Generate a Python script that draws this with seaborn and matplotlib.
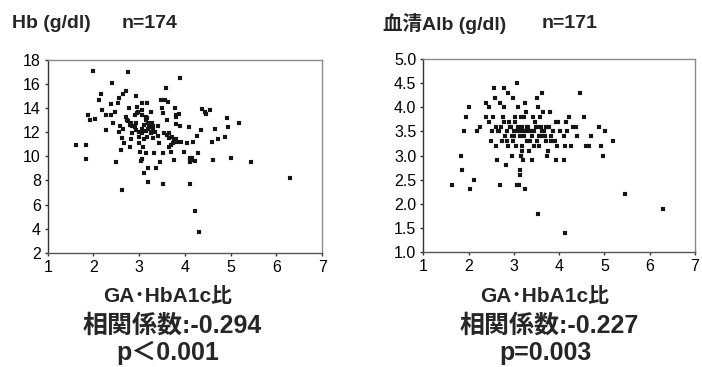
import matplotlib
matplotlib.use("Agg")
import matplotlib.pyplot as plt
import seaborn as sns
import pandas as pd

# ---- data ----
hb_ratio = [1.62, 1.83, 1.84, 1.99, 1.88, 1.93, 2.03, 2.11, 2.16, 2.19, 2.27, 2.27, 2.38, 2.38, 2.41,
            2.43, 2.47, 2.50, 2.54, 2.55, 2.58, 2.60, 2.63, 2.63, 2.65, 2.70, 2.66, 2.76, 2.71, 2.74,
            2.78, 2.79, 2.81, 2.83, 2.85, 2.90, 2.93, 2.94, 2.94, 2.96, 2.98, 3.00, 3.01, 3.04, 3.05,
            3.05, 3.07, 3.09, 3.11, 3.14, 3.14, 3.16, 3.18, 3.18, 3.20, 3.20, 3.22, 3.25, 3.27, 3.29,
            3.31, 3.32, 3.37, 3.41, 3.43, 3.45, 3.48, 3.49, 3.51, 3.51, 3.53, 3.54, 3.56, 3.59, 3.60,
            3.62, 3.64, 3.66, 3.69, 3.71, 3.73, 3.76, 3.78, 3.80, 3.80, 3.81, 3.82, 3.86, 3.89, 3.89,
            3.92, 3.98, 4.04, 4.09, 4.10, 4.11, 4.11, 4.14, 4.17, 4.21, 4.22, 4.27, 4.28, 4.31, 4.35,
            4.37, 4.44, 4.47, 4.55, 4.60, 4.61, 4.66, 4.72, 4.87, 4.92, 4.94, 5.01, 5.18, 5.45, 6.30,
            2.75, 2.80, 2.90, 3.00, 3.05, 3.10, 3.15, 3.20, 3.25, 3.30, 3.00, 3.10, 2.95, 3.05, 3.15,
            3.20, 3.30, 3.35, 2.85, 3.60, 3.65, 3.70, 3.75, 3.40, 2.65, 2.55, 3.05, 4.12, 4.15, 3.80]
hb_value = [10.9, 10.9, 9.8, 17.1, 13.4, 13.0, 13.1, 14.7, 15.2, 13.8, 13.4, 12.2, 13.4, 14.3, 16.1,
            12.8, 13.7, 9.5, 14.4, 14.8, 12.5, 10.5, 7.2, 11.5, 15.2, 15.4, 11.1, 17.0, 13.3, 13.0,
            14.0, 10.8, 11.4, 12.8, 12.5, 13.4, 15.0, 12.8, 12.2, 14.1, 13.7, 11.1, 10.4, 9.6, 14.4,
            11.9, 13.4, 10.8, 8.6, 10.3, 13.0, 14.4, 13.2, 11.6, 9.0, 7.9, 12.4, 13.7, 12.0, 12.8,
            11.5, 10.3, 9.0, 12.5, 11.1, 9.5, 14.7, 14.0, 7.7, 13.6, 10.3, 11.9, 14.7, 15.7, 13.0,
            14.5, 10.8, 11.9, 10.4, 11.6, 11.1, 9.7, 14.0, 13.4, 12.7, 11.4, 11.2, 13.5, 16.5, 12.5,
            11.2, 10.4, 11.1, 12.4, 9.9, 9.5, 7.7, 9.7, 11.2, 5.5, 9.6, 11.7, 10.3, 3.7, 12.2,
            13.9, 13.7, 13.5, 13.8, 11.2, 9.7, 12.3, 11.4, 11.6, 13.2, 12.4, 9.9, 12.8, 9.5, 8.2,
            12.9, 12.6, 12.4, 12.0, 12.3, 12.6, 12.1, 12.3, 11.9, 12.2, 11.6, 11.4, 13.6, 13.8, 13.3,
            12.8, 12.5, 12.0, 11.9, 11.8, 11.5, 10.9, 11.3, 11.7, 12.3, 12.0, 9.8, 9.8, 9.9, 13.3]

alb_ratio = [1.64, 1.84, 1.86, 1.90, 1.95, 2.00, 2.04, 2.12, 2.18, 2.26, 2.39, 2.39, 2.45, 2.46, 2.50,
             2.51, 2.55, 2.57, 2.58, 2.61, 2.63, 2.66, 2.70, 2.70, 2.72, 2.74, 2.75, 2.79, 2.79, 2.81,
             2.82, 2.86, 2.88, 2.90, 2.93, 2.95, 2.97, 2.99, 3.01, 3.03, 3.04, 3.07, 3.08, 3.10, 3.10,
             3.12, 3.13, 3.14, 3.14, 3.15, 3.17, 3.19, 3.20, 3.21, 3.23, 3.24, 3.25, 3.26, 3.28, 3.30,
             3.34, 3.36, 3.39, 3.41, 3.43, 3.45, 3.50, 3.50, 3.52, 3.53, 3.53, 3.55, 3.57, 3.59, 3.61,
             3.63, 3.65, 3.66, 3.70, 3.74, 3.76, 3.77, 3.79, 3.82, 3.83, 3.86, 3.91, 3.92, 3.93, 3.96,
             3.98, 4.01, 4.10, 4.10, 4.12, 4.12, 4.15, 4.18, 4.21, 4.27, 4.30, 4.38, 4.39, 4.47, 4.56,
             4.59, 4.65, 4.70, 4.87, 4.92, 4.96, 5.01, 5.18, 5.45, 6.29,
             2.60, 2.68, 2.78, 2.85, 2.92, 3.00, 3.05, 3.12, 3.18, 3.22, 3.27, 3.32, 3.38, 3.44, 3.48,
             3.56, 3.62, 3.68, 3.72, 2.84, 2.96, 3.02, 3.16, 3.35, 3.46]
alb_value = [2.4, 3.0, 2.7, 3.5, 3.8, 4.0, 2.3, 2.5, 3.5, 3.6, 4.1, 3.8, 4.0, 3.7, 3.3,
             3.5, 3.8, 4.4, 4.2, 3.2, 2.9, 3.5, 2.4, 4.1, 3.6, 3.3, 3.8, 4.4, 4.0, 3.4,
             2.8, 3.2, 4.3, 3.7, 3.6, 3.0, 3.3, 4.2, 3.5, 3.8, 3.2, 2.4, 4.5, 3.6, 4.0,
             2.4, 3.4, 2.7, 2.6, 3.0, 3.2, 3.1, 2.9, 3.5, 3.8, 4.1, 2.3, 3.9, 3.6, 3.3,
             3.1, 3.5, 2.9, 3.4, 3.8, 3.2, 3.3, 4.2, 3.6, 1.8, 4.0, 3.2, 3.8, 3.4, 3.6,
             4.3, 3.9, 3.5, 3.3, 3.0, 3.1, 3.6, 3.9, 3.3, 3.4, 3.5, 3.3, 2.9, 3.7, 3.2,
             3.7, 3.5, 3.4, 2.9, 1.4, 3.2, 3.7, 3.5, 3.8, 3.2, 3.6, 3.6, 3.4, 4.3, 3.8,
             3.2, 3.2, 3.4, 3.6, 3.2, 3.0, 3.5, 3.3, 2.2, 1.9,
             3.6, 3.5, 3.7, 3.5, 3.6, 3.4, 3.5, 3.5, 3.6, 3.4, 3.5, 3.6, 3.5, 3.5, 3.6,
             3.4, 3.5, 3.4, 3.6, 3.3, 3.4, 3.7, 3.8, 3.3, 3.7]

x_ticks = [1, 2, 3, 4, 5, 6, 7]
hb_yticks = [2, 4, 6, 8, 10, 12, 14, 16, 18]
alb_yticks = [1.0, 1.5, 2.0, 2.5, 3.0, 3.5, 4.0, 4.5, 5.0]

titles = [("Hb (g/dl)", "n=174"), ("血清Alb (g/dl)", "n=171")]
xlabel = "GA･HbA1c比"
corr_texts = ["相関係数:-0.294", "相関係数:-0.227"]
p_texts = ["p＜0.001", "p=0.003"]

sns.set_theme(style="white")
plt.rcParams['font.family'] = ['Liberation Sans', 'Noto Sans CJK JP', 'DejaVu Sans']
FAM = ['Liberation Sans', 'Noto Sans CJK JP', 'DejaVu Sans']

fig = plt.figure(figsize=(7.02, 3.67), dpi=100)
ax1 = fig.add_axes([0.068, 0.311, 0.391, 0.526])
ax2 = fig.add_axes([0.603, 0.313, 0.387, 0.526])

df1 = pd.DataFrame({"ratio": hb_ratio, "val": hb_value})
df2 = pd.DataFrame({"ratio": alb_ratio, "val": alb_value})

sns.scatterplot(data=df1, x="ratio", y="val", ax=ax1, marker="s", s=6, color="#151515",
                edgecolor="#151515", linewidth=0.1, legend=False)
sns.scatterplot(data=df2, x="ratio", y="val", ax=ax2, marker="s", s=6, color="#151515",
                edgecolor="#151515", linewidth=0.1, legend=False)

for ax, yt, yfmt in [(ax1, hb_yticks, "{:.0f}"), (ax2, alb_yticks, "{:.1f}")]:
    ax.set_xlim(1, 7)
    ax.set_ylim(yt[0], yt[-1])
    ax.set_xticks(x_ticks)
    ax.set_xticklabels([str(t) for t in x_ticks], fontsize=11.5, family=FAM)
    ax.set_yticks(yt)
    ax.set_yticklabels([yfmt.format(t) for t in yt], fontsize=11.5, family=FAM)
    ax.set_xlabel("")
    ax.set_ylabel("")
    ax.tick_params(axis="both", direction="out", length=2, width=1.0, color="#333333",
                   pad=3, bottom=True, left=True, labelcolor="black")
    for sp in ax.spines.values():
        sp.set_color("#8a8a8a")
        sp.set_linewidth(1.0)
    ax.spines["left"].set_color("#333333")
    ax.spines["bottom"].set_color("#555555")

# titles
ty = 1 - 23 / 367
fig.text(12 / 702, ty, titles[0][0], fontsize=14, fontweight="bold", family=FAM, va="center")
fig.text(122 / 702, ty, titles[0][1], fontsize=14, fontweight="bold", family=FAM, va="center")
fig.text(383 / 702, ty, titles[1][0], fontsize=14, fontweight="bold", family=FAM, va="center")
fig.text(542 / 702, ty, titles[1][1], fontsize=14, fontweight="bold", family=FAM, va="center")

# bottom texts
for cx, corr, p in [(168 / 702, corr_texts[0], p_texts[0]), (545 / 702, corr_texts[1], p_texts[1])]:
    fig.text(cx, 1 - 296 / 367, xlabel, fontsize=15, fontweight="bold", family=FAM,
             ha="center", va="center")
    fig.text(cx + 4 / 702, 1 - 326 / 367, corr, fontsize=18, fontweight="bold", family=FAM,
             ha="center", va="center")
    fig.text(cx, 1 - 353 / 367, p, fontsize=18, fontweight="bold", family=FAM,
             ha="center", va="center")

fig.savefig("out.png", dpi=100)
